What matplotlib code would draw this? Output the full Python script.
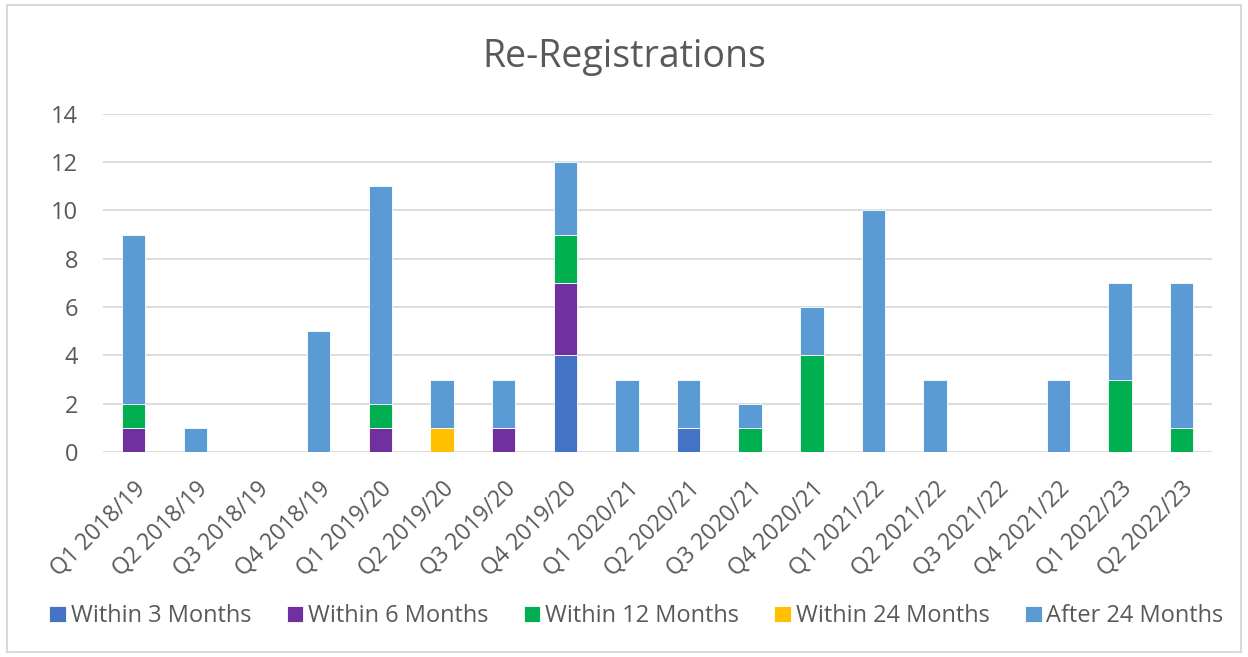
import matplotlib
matplotlib.use("Agg")
import matplotlib.pyplot as plt
from matplotlib.patches import Rectangle
import numpy as np

quarters = ["Q1 2018/19", "Q2 2018/19", "Q3 2018/19", "Q4 2018/19",
            "Q1 2019/20", "Q2 2019/20", "Q3 2019/20", "Q4 2019/20",
            "Q1 2020/21", "Q2 2020/21", "Q3 2020/21", "Q4 2020/21",
            "Q1 2021/22", "Q2 2021/22", "Q3 2021/22", "Q4 2021/22",
            "Q1 2022/23", "Q2 2022/23"]
within_3 = [0, 0, 0, 0, 0, 0, 0, 4, 0, 1, 0, 0, 0, 0, 0, 0, 0, 0]
within_6 = [1, 0, 0, 0, 1, 0, 1, 3, 0, 0, 0, 0, 0, 0, 0, 0, 0, 0]
within_12 = [1, 0, 0, 0, 1, 0, 0, 2, 0, 0, 1, 4, 0, 0, 0, 0, 3, 1]
within_24 = [0, 0, 0, 0, 0, 1, 0, 0, 0, 0, 0, 0, 0, 0, 0, 0, 0, 0]
after_24 = [7, 1, 0, 5, 9, 2, 2, 3, 3, 2, 1, 2, 10, 3, 0, 3, 4, 6]

series = [("Within 3 Months", within_3, "#4472C4"),
          ("Within 6 Months", within_6, "#7030A0"),
          ("Within 12 Months", within_12, "#00B050"),
          ("Within 24 Months", within_24, "#FFC000"),
          ("After 24 Months", after_24, "#5B9BD5")]

plt.rcParams["font.family"] = ["Open Sans", "DejaVu Sans"]
text_col = "#595959"

fig = plt.figure(figsize=(12.48, 6.57), dpi=100)
ax = fig.add_axes([0.0825, 0.312, 0.889, 0.515])

x = np.arange(len(quarters))
bottom = np.zeros(len(quarters))
for name, vals, col in series:
    vals = np.array(vals, dtype=float)
    ax.bar(x, vals, 0.38, bottom=bottom, color=col, label=name,
           edgecolor="white", linewidth=0.6, zorder=3)
    bottom += vals

ax.set_xlim(-0.5, len(quarters) - 0.5)
ax.set_ylim(0, 14)
ax.set_yticks(range(0, 15, 2))
ax.set_xticks(x)
ax.set_xticklabels(quarters, rotation=45, ha="right", rotation_mode="anchor")
ax.tick_params(axis="y", length=0, labelsize=17, colors=text_col, pad=18)
ax.tick_params(axis="x", length=0, labelsize=16.5, colors=text_col, pad=18)
ax.grid(axis="y", color="#D9D9D9", linewidth=1.3, zorder=0)
for s in ax.spines.values():
    s.set_visible(False)

fig.text(0.5, 0.913, "Re-Registrations", fontsize=27, color=text_col,
         ha="center", va="center")

handles, labels = ax.get_legend_handles_labels()
fig.legend(handles, labels, loc="center", bbox_to_anchor=(0.51, 0.062), ncol=5,
           frameon=False, fontsize=17, labelcolor=text_col, handlelength=0.7,
           handleheight=0.7, handletextpad=0.2, columnspacing=1.5)

fig.patches.append(Rectangle((0.006, 0.008), 0.988, 0.984, transform=fig.transFigure,
                             fill=False, edgecolor="#D9D9D9", linewidth=1.5))

fig.savefig("out.png", dpi=100, facecolor="white")
